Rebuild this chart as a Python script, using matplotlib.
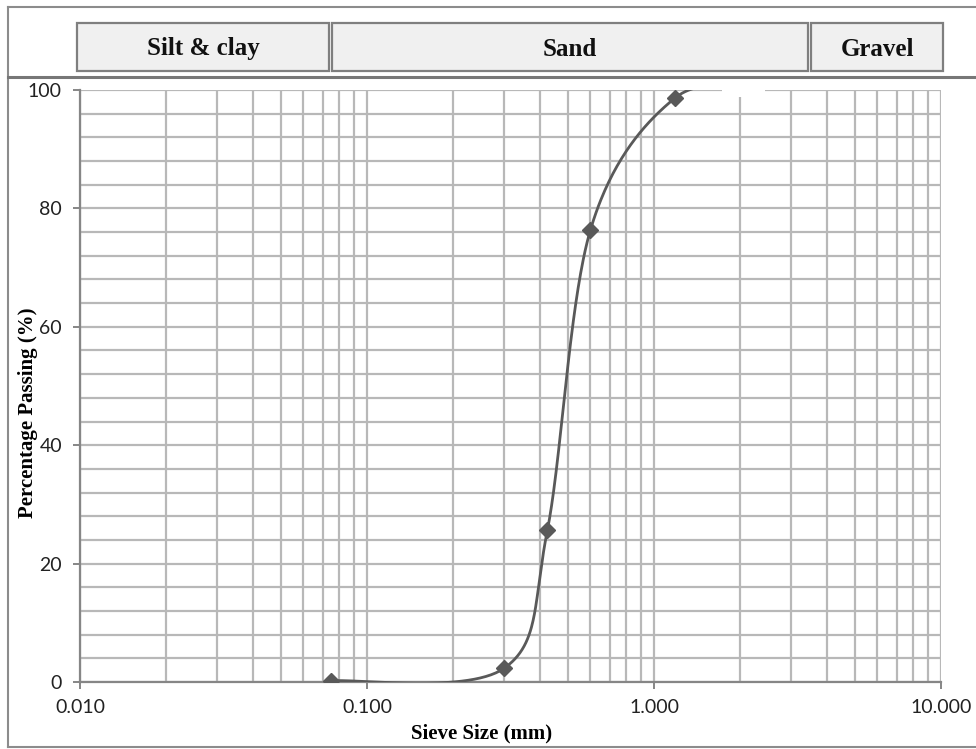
import numpy as np
import matplotlib.pyplot as plt
from matplotlib.patches import Rectangle
from matplotlib.lines import Line2D
from matplotlib.ticker import FixedLocator, LogLocator, NullFormatter, FuncFormatter

# sieve analysis results
sieve_mm = [0.075, 0.3, 0.425, 0.6, 1.18, 2.36]
passing = [0.2, 2.3, 25.6, 76.3, 98.6, 100.0]
n_marked = 5  # last sieve (100 %) is drawn without a marker

soil_classes = ["Silt & clay", "Sand", "Gravel"]
y_ticks = [0, 20, 40, 60, 80, 100]
x_ticks = [0.01, 0.1, 1.0, 10.0]

W, H = 976, 749
fig = plt.figure(figsize=(W / 100, H / 100), dpi=100)

# axes box in pixels: left, top, right, bottom
L, T, R, B = 80, 90, 941, 682
ax = fig.add_axes([L / W, 1 - B / H, (R - L) / W, (B - T) / H])

ax.set_xscale("log")
ax.set_xlim(0.01, 10)
ax.set_ylim(0, 100)

grid_c = "#b8b8b8"
spine_c = "#868686"
line_c = "#595959"


def excel_smooth(xs, ys, n=60):
    # cubic bezier through the points, computed in screen-proportional space
    px = np.log10(xs) * (R - L) / 3.0
    py = np.asarray(ys) * (B - T) / 100.0
    P = np.column_stack([px, py])
    P = np.vstack([P[0], P, P[-1]])
    out = []
    t = np.linspace(0, 1, n)[:, None]
    for i in range(1, len(P) - 2):
        p0, p1, p2, p3 = P[i - 1], P[i], P[i + 1], P[i + 2]
        c1 = p1 + (p2 - p0) / 6.0
        c2 = p2 - (p3 - p1) / 6.0
        seg = ((1 - t) ** 3) * p1 + 3 * ((1 - t) ** 2) * t * c1 + 3 * (1 - t) * t ** 2 * c2 + t ** 3 * p2
        out.append(seg)
    out = np.vstack(out)
    return 10 ** (out[:, 0] * 3.0 / (R - L)), out[:, 1] * 100.0 / (B - T)


cx, cy = excel_smooth(sieve_mm, passing)
ax.plot(cx, cy, color=line_c, lw=2, zorder=4, solid_capstyle="round")
ax.plot(sieve_mm[:n_marked], passing[:n_marked], ls="none", marker="D", ms=8,
        color=line_c, zorder=5)

# grid
ax.xaxis.set_major_locator(FixedLocator(x_ticks))
ax.xaxis.set_minor_locator(LogLocator(base=10, subs=np.arange(2, 10)))
ax.xaxis.set_minor_formatter(NullFormatter())
ax.xaxis.set_major_formatter(FuncFormatter(lambda v, p: f"{v:.3f}"))
ax.yaxis.set_major_locator(FixedLocator(y_ticks))
ax.yaxis.set_minor_locator(FixedLocator(np.arange(0, 101, 4)))
ax.grid(True, which="both", axis="both", color=grid_c, lw=1.6, zorder=1)
ax.set_axisbelow(True)

for s in ["top", "right"]:
    ax.spines[s].set_visible(False)
for s in ["left", "bottom"]:
    ax.spines[s].set_color(spine_c)
    ax.spines[s].set_linewidth(1.6)
    ax.spines[s].set_zorder(3)

ax.tick_params(which="major", direction="out", length=5, width=1.4, color=spine_c,
               labelsize=14, labelcolor="#222222")
ax.tick_params(axis="x", which="minor", length=0)
ax.tick_params(axis="y", which="minor", length=0)
ax.tick_params(axis="x", pad=7)
ax.tick_params(axis="y", pad=8)
for lab in ax.get_xticklabels() + ax.get_yticklabels():
    lab.set_fontfamily("Lato")

# small white patch over the top gridline around 2 mm
ax.add_patch(Rectangle((0.7456, 0.988), 0.05, 0.03, transform=ax.transAxes,
                       facecolor="white", edgecolor="none", zorder=6, clip_on=False))

serif = "Liberation Serif"
fig.text(482 / W, 1 - 733 / H, "Sieve Size (mm)", ha="center", va="center",
         fontsize=15, fontweight="bold", family=serif)
fig.text(28 / W, 1 - 413 / H, "Percentage Passing (%)", ha="center", va="center",
         rotation=90, fontsize=15, fontweight="bold", family=serif)

# header boxes for soil classes
boxes = [(77, 329), (332, 808), (811, 943)]
by0, by1 = 23, 71
for name, (x0, x1) in zip(soil_classes, boxes):
    fig.patches.append(Rectangle((x0 / W, 1 - by1 / H), (x1 - x0) / W, (by1 - by0) / H,
                                 transform=fig.transFigure, facecolor="#f0f0f0",
                                 edgecolor="#7f7f7f", lw=1.6))
    fig.text((x0 + x1) / 2 / W, 1 - 49 / H, name, ha="center", va="center",
             fontsize=18, fontweight="bold", family=serif, color="#111111")

# frame lines
frame_c = "#8c8c8c"
fig.lines.append(Line2D([8 / W, 8 / W], [1 - 7 / H, 1 - 747 / H], transform=fig.transFigure,
                        color=frame_c, lw=1.5))
fig.lines.append(Line2D([8 / W, 1], [1 - 7 / H, 1 - 7 / H], transform=fig.transFigure,
                        color=frame_c, lw=1.5))
fig.lines.append(Line2D([8 / W, 1], [1 - 747 / H, 1 - 747 / H], transform=fig.transFigure,
                        color=frame_c, lw=1.5))
fig.lines.append(Line2D([8 / W, 1], [1 - 77 / H, 1 - 77 / H], transform=fig.transFigure,
                        color="#777777", lw=2.2))

fig.savefig("out.png", dpi=100)
